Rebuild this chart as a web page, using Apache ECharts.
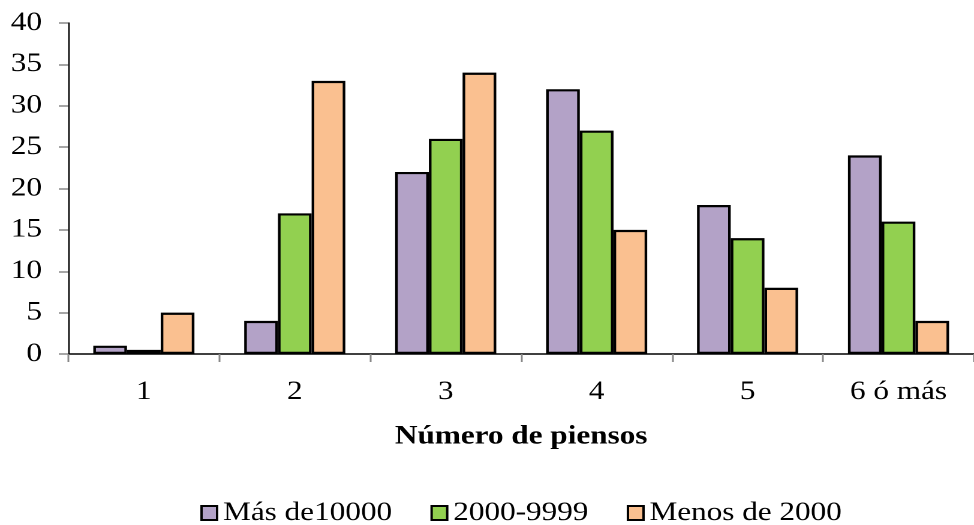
<!DOCTYPE html>
<html>
<head>
<meta charset="utf-8">
<script src="https://cdn.jsdelivr.net/npm/echarts@6/dist/echarts.min.js"></script>
<style>
  html, body { margin: 0; padding: 0; background: #fff; overflow: hidden; }
  /* the chart is laid out at 812px and widened to fill the 974px page */
  #chart { width: 812px; height: 525px; transform: scaleX(1.1995); transform-origin: 0 0; }
</style>
</head>
<body>
<div id="chart"></div>
<script>
// Number of feeds per farm, grouped by farm size
const categories = ['1', '2', '3', '4', '5', '6 ó más'];
const seriesNames = ['Más de10000', '2000-9999', 'Menos de 2000'];
const masDe10000 = [1, 4, 22, 32, 18, 24];
const de2000a9999 = [0.5, 17, 26, 27, 14, 16];
const menosDe2000 = [5, 33, 34, 15, 8, 4];
const colors = ['#B3A2C7', '#92D050', '#FAC090'];

const font = "'Liberation Serif', 'Times New Roman', serif";

const chart = echarts.init(document.getElementById('chart'), null, { renderer: 'canvas', devicePixelRatio: 2 });

const values = [masDe10000, de2000a9999, menosDe2000];

chart.setOption({
  animation: false,
  textStyle: { fontFamily: font },
  grid: { left: 57, right: 0, top: 23, bottom: 171, containLabel: false },
  legend: {
    data: seriesNames,
    top: 495,
    left: 162,
    itemWidth: 13,
    itemHeight: 14,
    itemGap: 32,
    icon: 'rect',
    textStyle: { fontFamily: font, fontSize: 26, color: '#000' }
  },
  xAxis: {
    type: 'category',
    data: categories,
    name: 'Número de piensos',
    nameLocation: 'middle',
    nameGap: 70,
    nameTextStyle: { fontFamily: font, fontSize: 26, fontWeight: 'bold', color: '#000' },
    axisLine: { lineStyle: { color: '#000', width: 1.5 } },
    axisTick: { show: true, length: 8, lineStyle: { color: '#888', width: 1.5 } },
    axisLabel: { fontFamily: font, fontSize: 26, color: '#000', margin: 25 },
    splitLine: { show: false }
  },
  yAxis: {
    type: 'value',
    min: 0,
    max: 40,
    interval: 5,
    axisLine: { show: true, lineStyle: { color: '#000', width: 1.3 } },
    axisTick: { show: true, length: 8, lineStyle: { color: '#888', width: 1.5 } },
    axisLabel: { fontFamily: font, fontSize: 26, color: '#000', margin: 22 },
    splitLine: { show: false }
  },
  series: seriesNames.map((name, i) => ({
    name: name,
    type: 'bar',
    data: values[i],
    barGap: '0%',
    barCategoryGap: '33%',
    itemStyle: { color: colors[i], borderColor: '#000', borderWidth: 2.2 }
  }))
});
</script>
</body>
</html>
